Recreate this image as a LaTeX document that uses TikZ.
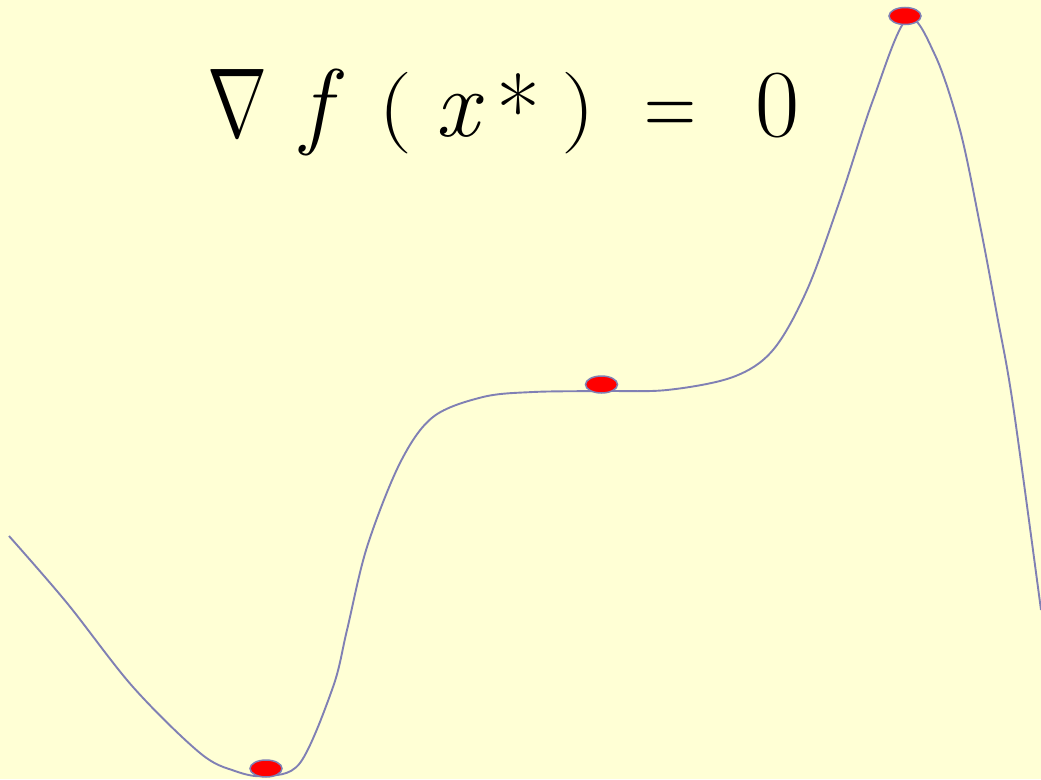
\documentclass[tikz,border=0pt]{standalone}
\usetikzlibrary{shapes.geometric}
\definecolor{bgyellow}{RGB}{255,255,213}
\definecolor{curveblue}{RGB}{128,128,180}
\newcommand\placeglyph[2]{\hbox to 0pt{\hskip #1pt\relax #2\hss}}
\newcommand\shortparen[1]{\raisebox{3pt}{\scalebox{1}[0.85]{#1}}}
\tikzset{
  curve/.style={draw=curveblue, line width=1.9pt},
  dot/.style={ellipse, draw=curveblue, line width=1.5pt, fill=red,
    minimum width=32pt, minimum height=17pt, inner sep=0pt},
}
\begin{document}
\begin{tikzpicture}[x=1pt,y=-1pt]
  \fill[bgyellow] (0,0) rectangle (1041,779);
  \useasboundingbox (0,0) rectangle (1041,779);
  \draw[curve] plot[smooth, tension=0.55] coordinates {
    (9,536) (67,603) (133,687) (200,753) (235,771) (265,776) (300,763)
    (333,687) (347,630) (367,547) (400,463) (433,417) (483,397) (533,392)
    (600,391) (667,390) (733,377) (773,350) (807,290) (840,200) (873,100)
    (907,19) (935,55) (960,130) (980,225) (997,315) (1013,405) (1041,610)};
  \node[dot] (mn) at (266,768.5) {};
  \node[dot] (sd) at (601.5,384.5) {};
  \node[dot] (mx) at (905,16) {};
  \node[anchor=base west, inner sep=0pt, font=\fontsize{96}{100}\selectfont] (eq) at (0,136)
    {\placeglyph{207}{\scalebox{7.2}[9.8]{\fontsize{10}{12}\selectfont$\nabla$}}%
     \placeglyph{301}{\itshape f}\placeglyph{378}{\shortparen{(}}%
     \placeglyph{435}{\itshape x}\placeglyph{496}{\raisebox{-9pt}{*}}\placeglyph{561}{\shortparen{)}}%
     \placeglyph{644}{\scalebox{0.75}[1]{=}}\placeglyph{755}{0}};
\end{tikzpicture}
\end{document}
